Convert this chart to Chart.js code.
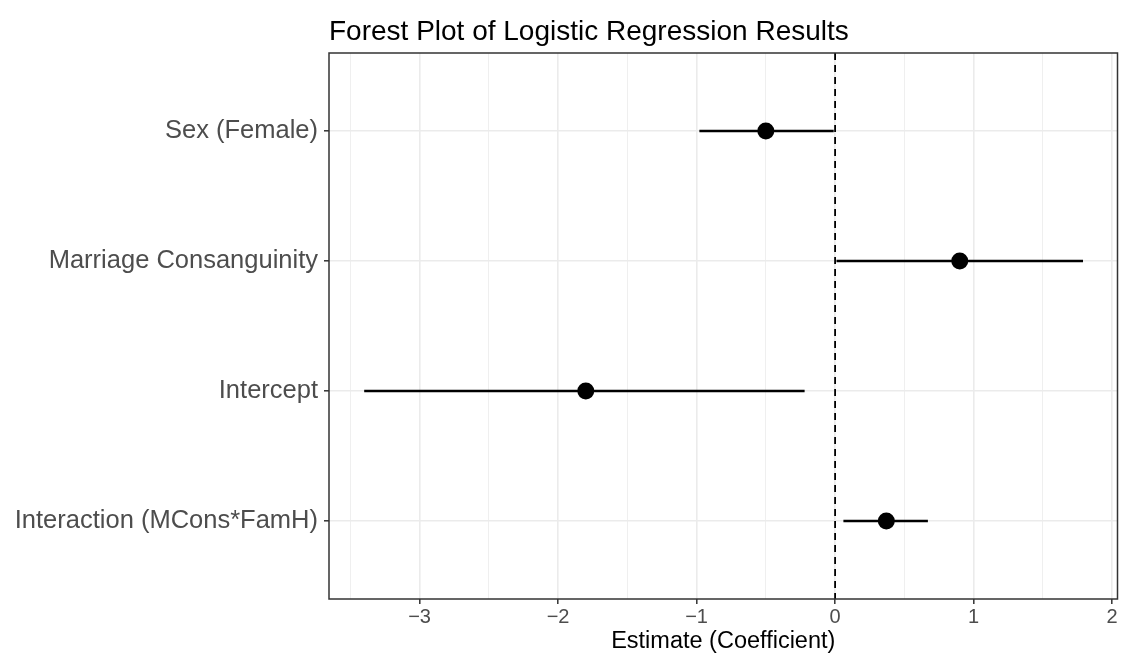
<!DOCTYPE html>
<html>
<head>
<meta charset="utf-8">
<script src="https://cdn.jsdelivr.net/npm/chart.js@4.4.0/dist/chart.umd.min.js"></script>
<style>
  html, body { margin: 0; padding: 0; background: #ffffff; }
  #wrap { width: 1126px; height: 659px; position: relative; }
</style>
</head>
<body>
<div id="wrap"><canvas id="c" width="1126" height="659"></canvas></div>
<script>
const titleText = 'Forest Plot of Logistic Regression Results';
const xAxisTitle = 'Estimate (Coefficient)';
const categories = ['Sex (Female)', 'Marriage Consanguinity', 'Intercept', 'Interaction (MCons*FamH)'];
const estimates = [-0.50, 0.90, -1.80, 0.37];
const lowerCI = [-0.98, 0.01, -3.40, 0.06];
const upperCI = [-0.01, 1.79, -0.22, 0.67];
const xTickValues = [-3.5, -3, -2.5, -2, -1.5, -1, -0.5, 0, 0.5, 1, 1.5, 2];
const xMin = -3.654, xMax = 2.039;
const yMin = -0.6, yMax = 3.6;
const refLine = 0;

const FONT = 'Liberation Sans, Arial, Helvetica, sans-serif';
const isMajor = v => Math.abs(v - Math.round(v)) < 1e-9;

const ciDatasets = categories.map((c, i) => ({
  type: 'line',
  data: [{x: lowerCI[i], y: i}, {x: upperCI[i], y: i}],
  borderColor: '#000000',
  borderWidth: 2.3,
  pointRadius: 0,
  fill: false,
  order: 2
}));

const pointDataset = {
  type: 'scatter',
  data: categories.map((c, i) => ({x: estimates[i], y: i})),
  backgroundColor: '#000000',
  borderWidth: 0,
  pointRadius: 8.5,
  pointHoverRadius: 8.5,
  order: 1
};

const refDataset = {
  type: 'line',
  data: [{x: refLine, y: yMin}, {x: refLine, y: yMax}],
  borderColor: '#000000',
  borderWidth: 1.8,
  borderDash: [7, 5],
  pointRadius: 0,
  fill: false,
  order: 3
};

const frameAndTitle = {
  id: 'frameAndTitle',
  afterDraw(chart) {
    const {ctx, chartArea: a} = chart;
    ctx.save();
    ctx.strokeStyle = '#333333';
    ctx.lineWidth = 1.5;
    ctx.strokeRect(a.left, a.top, a.right - a.left, a.bottom - a.top);
    ctx.fillStyle = '#000000';
    ctx.font = '28px ' + FONT;
    ctx.textAlign = 'left';
    ctx.textBaseline = 'alphabetic';
    ctx.fillText(titleText, a.left, 40);
    ctx.restore();
  }
};

new Chart(document.getElementById('c'), {
  type: 'scatter',
  data: { datasets: [...ciDatasets, pointDataset, refDataset] },
  options: {
    responsive: false,
    animation: false,
    layout: { padding: { top: 53, left: 0, right: 4, bottom: 0 } },
    plugins: { legend: { display: false }, tooltip: { enabled: false }, title: { display: false } },
    scales: {
      x: {
        type: 'linear',
        min: xMin, max: xMax,
        afterBuildTicks: s => { s.ticks = xTickValues.map(v => ({value: v})); },
        afterFit: s => { s.height = 60; },
        border: { display: false },
        grid: {
          color: '#ebebeb',
          lineWidth: ctx => isMajor(ctx.tick.value) ? 1.6 : 0.8,
          tickColor: ctx => isMajor(ctx.tick.value) ? '#333333' : 'rgba(0,0,0,0)',
          tickLength: 5,
          tickWidth: 1.5
        },
        ticks: {
          autoSkip: false,
          maxRotation: 0,
          padding: 1,
          color: '#4d4d4d',
          font: { family: FONT, size: 20 },
          callback: v => isMajor(v) ? String(Math.round(v)).replace('-', '\u2212') : ''
        },
        title: {
          display: true,
          text: xAxisTitle,
          color: '#000000',
          font: { family: FONT, size: 23.5 },
          padding: { top: 0, bottom: 3 }
        }
      },
      y: {
        type: 'linear',
        reverse: true,
        min: yMin, max: yMax,
        afterBuildTicks: s => { s.ticks = categories.map((c, i) => ({value: i})); },
        afterFit: s => { s.width = 329; },
        border: { display: false },
        grid: {
          color: '#ebebeb',
          lineWidth: 1.6,
          tickColor: '#333333',
          tickLength: 5,
          tickWidth: 1.5
        },
        ticks: {
          autoSkip: false,
          padding: 6,
          color: '#4d4d4d',
          font: { family: FONT, size: 25.5 },
          callback: v => categories[v] !== undefined ? categories[v] : ''
        }
      }
    }
  },
  plugins: [frameAndTitle]
});
</script>
</body>
</html>
